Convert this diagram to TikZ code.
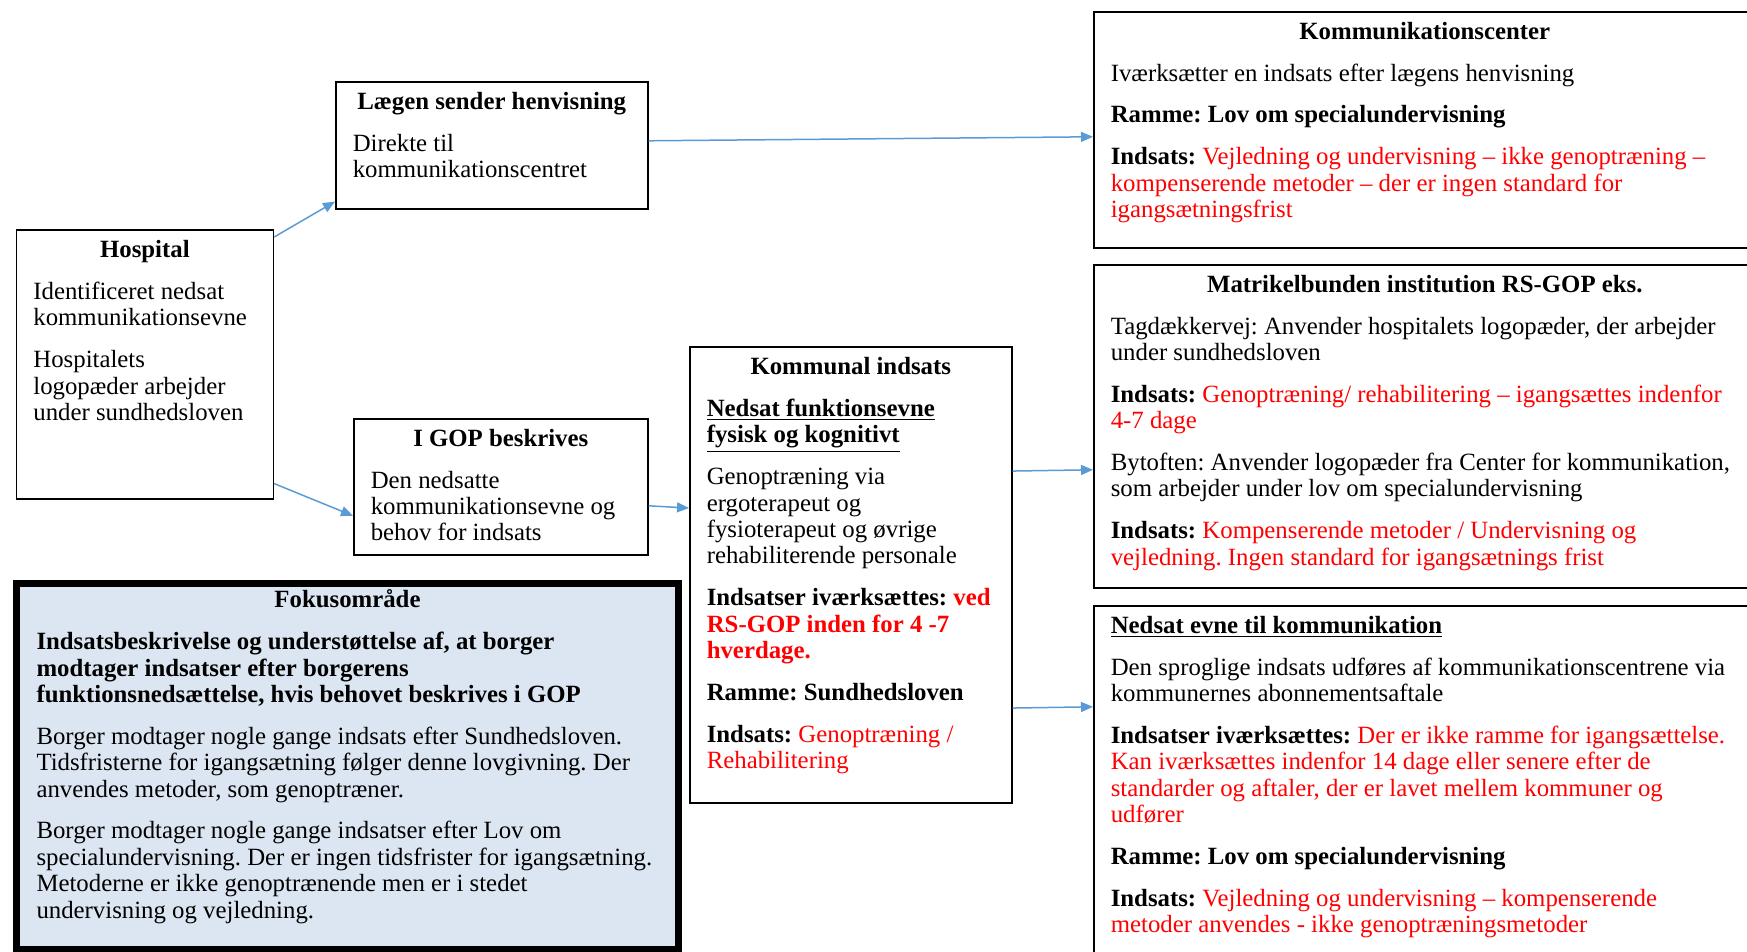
\documentclass[tikz,border=0pt]{standalone}
\usepackage{fontspec}
\setmainfont{Liberation Serif}
\usetikzlibrary{arrows.meta}
\frenchspacing
\definecolor{rod}{RGB}{255,0,0}
\definecolor{pilblaa}{RGB}{91,155,213}
\definecolor{fokusblaa}{RGB}{220,230,242}
\newcommand{\indhold}[3]{\parbox[t][#2][t]{#1}{\setlength{\parskip}{7.7pt}\raggedright #3}}
\newcommand{\titel}[1]{{\centering\strut\textbf{#1}\par}}
\newcommand{\rd}[1]{\textcolor{rod}{#1}}
\begin{document}
\begin{tikzpicture}[x=1pt,y=-1pt,font=\fontsize{12.4}{13.2}\selectfont,
boks/.style={draw,line width=0.8pt,anchor=north west,inner xsep=8.5pt,inner ysep=4.5pt},
fokus/.style={boks,line width=3.5pt,fill=fokusblaa,inner xsep=10pt,inner ysep=3pt},
pil/.style={draw=pilblaa,line width=0.75pt,-{Triangle[length=6pt,width=5pt]}}]
\useasboundingbox (0,0) rectangle (873.5,476);
\node[boks](hosp) at (7.8,114.75){\indhold{111.5pt}{125.25pt}{\titel{Hospital}
Identificeret nedsat\\kommunikationsevne\par
Hospitalets\\logopæder arbejder\\under sundhedsloven}};
\node[boks](laegen) at (167.5,40.5){\indhold{139pt}{54.5pt}{\titel{Lægen sender henvisning}
Direkte til\\kommunikationscentret}};
\node[boks](igop) at (176.5,209){\indhold{130pt}{59pt}{\titel{I GOP beskrives}
Den nedsatte\\kommunikationsevne og\\behov for indsats}};
\node[boks](kommunal) at (344.5,173.25){\indhold{144pt}{218.75pt}{\titel{Kommunal indsats}
\textbf{\underline{Nedsat funktionsevne}}\\\textbf{\underline{fysisk og kognitivt}}\par
Genoptræning via\\ergoterapeut og\\fysioterapeut og øvrige\\rehabiliterende personale\par
\textbf{Indsatser iværksættes: \rd{ved}}\\\textbf{\rd{RS-GOP inden for 4 -7}}\\\textbf{\rd{hverdage.}}\par
\textbf{Ramme: Sundhedsloven}\par
\textbf{Indsats:} \rd{Genoptræning /}\\\rd{Rehabilitering}}};
\node[fokus](fokusomr) at (6.5,290){\indhold{311pt}{176.75pt}{\titel{Fokusområde}
\textbf{Indsatsbeskrivelse og understøttelse af, at borger}\\\textbf{modtager indsatser efter borgerens}\\\textbf{funktionsnedsættelse, hvis behovet beskrives i GOP}\par
Borger modtager nogle gange indsats efter Sundhedsloven.\\Tidsfristerne for igangsætning følger denne lovgivning. Der\\anvendes metoder, som genoptræner.\par
Borger modtager nogle gange indsatser efter Lov om\\specialundervisning. Der er ingen tidsfrister for igangsætning.\\Metoderne er ikke genoptrænende men er i stedet\\undervisning og vejledning.}};
\node[boks](komc) at (546.5,5.5){\indhold{314pt}{109pt}{\titel{Kommunikationscenter}
Iværksætter en indsats efter lægens henvisning\par
\textbf{Ramme: Lov om specialundervisning}\par
\textbf{Indsats:} \rd{Vejledning og undervisning – ikke genoptræning –}\\\rd{kompenserende metoder – der er ingen standard for}\\\rd{igangsætningsfrist}}};
\node[boks](matrikel) at (546.5,132){\indhold{314pt}{152.5pt}{\titel{Matrikelbunden institution RS-GOP eks.}
Tagdækkervej: Anvender hospitalets logopæder, der arbejder\\under sundhedsloven\par
\textbf{Indsats:} \rd{Genoptræning/ rehabilitering – igangsættes indenfor}\\\rd{4-7 dage}\par
Bytoften: Anvender logopæder fra Center for kommunikation,\\som arbejder under lov om specialundervisning\par
\textbf{Indsats:} \rd{Kompenserende metoder / Undervisning og}\\\rd{vejledning. Ingen standard for igangsætnings frist}}};
\node[boks](nedsat) at (546.5,302.5){\indhold{314pt}{171pt}{\strut\textbf{\underline{Nedsat evne til kommunikation}}\par
Den sproglige indsats udføres af kommunikationscentrene via\\kommunernes abonnementsaftale\par
\textbf{Indsatser iværksættes:} \rd{Der er ikke ramme for igangsættelse.}\\\rd{Kan iværksættes indenfor 14 dage eller senere efter de}\\\rd{standarder og aftaler, der er lavet mellem kommuner og}\\\rd{udfører}\par
\textbf{Ramme: Lov om specialundervisning}\par
\textbf{Indsats:} \rd{Vejledning og undervisning – kompenserende}\\\rd{metoder anvendes - ikke genoptræningsmetoder}}};
\draw[pil] ([yshift=-3.75pt]hosp.north east) -- ([yshift=4pt]laegen.south west);
\draw[pil] ([yshift=8pt]hosp.south east) -- ([yshift=-14.5pt]igop.west);
\draw[pil] ([yshift=2.25pt]laegen.east) -- ([yshift=-3.5pt]komc.west);
\draw[pil] ([yshift=-9.5pt]igop.east) -- ([yshift=33.5pt]kommunal.west);
\draw[pil] ([yshift=52pt]kommunal.east) -- ([yshift=-21.75pt]matrikel.west);
\draw[pil] ([yshift=-66.5pt]kommunal.east) -- ([yshift=39.5pt]nedsat.west);
\end{tikzpicture}
\end{document}
